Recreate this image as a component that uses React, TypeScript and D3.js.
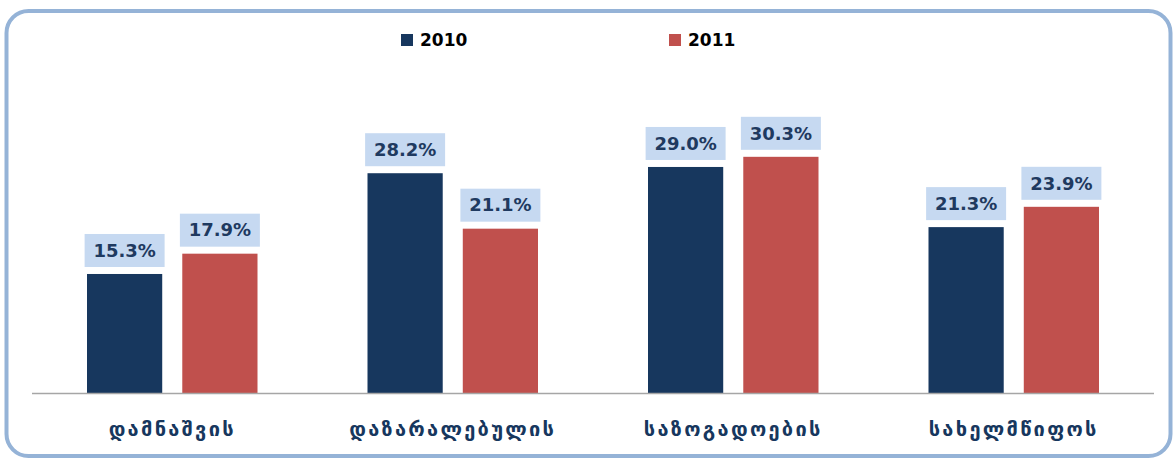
import React from "react";
import * as d3 from "d3";

const categories = ["დამნაშვის", "დაზარალებულის", "საზოგადოების", "სახელმწიფოს"];
const series = ["2010", "2011"];
const values2010 = [15.3, 28.2, 29.0, 21.3];
const values2011 = [17.9, 21.1, 30.3, 23.9];
const colors = ["#17375e", "#c0504d"];

const W = 1173;
const H = 458;

export default function App() {
  const x0 = d3.scaleBand<string>().domain(categories).range([32, 1154]).paddingInner(0).paddingOuter(0);
  const x1 = d3.scaleBand<string>().domain(series).range([55, x0.bandwidth() - 55]).paddingInner(20 / 95).paddingOuter(0);
  const y = d3.scaleLinear().domain([0, 35]).range([393.5, 393.5 - 273.4]);
  const data = [values2010, values2011];

  return (
    <svg width={W} height={H} style={{ position: "absolute", left: 0, top: 0 }}>
      <rect x={0} y={0} width={W} height={H} fill="#ffffff" />
      <rect x={6.5} y={11} width={1164} height={445} rx={22} ry={22} fill="none" stroke="#95b3d7" strokeWidth={4} />
      {series.map((s, i) => (
        <g key={s} transform={`translate(${i === 0 ? 401 : 669},34)`}>
          <rect x={0} y={0} width={12} height={12} fill={colors[i]} />
          <text x={19} y={12} fontFamily="DejaVu Sans" fontWeight="bold" fontSize={17} fill="#000">{s}</text>
        </g>
      ))}
      {categories.map((c, ci) => (
        <g key={c} transform={`translate(${x0(c)},0)`}>
          {series.map((s, si) => {
            const v = data[si][ci];
            const bx = x1(s)!;
            const bw = x1.bandwidth();
            const top = y(v);
            return (
              <g key={s}>
                <rect x={bx} y={top} width={bw} height={y(0) - top} fill={colors[si]} />
                <rect x={bx + bw / 2 - 40} y={top - 40} width={80} height={33} fill="#c6d9f1" />
                <text x={bx + bw / 2} y={top - 23.5} dy="0.35em" textAnchor="middle" fontFamily="DejaVu Sans" fontWeight="bold" fontSize={18} fill="#1f3a60">
                  {v.toFixed(1)}%
                </text>
              </g>
            );
          })}
          <text x={x0.bandwidth() / 2} y={429} dy="0.35em" textAnchor="middle" fontFamily="DejaVu Sans" fontWeight="bold" fontSize={20} letterSpacing={2.3} fill="#17375e">
            {c}
          </text>
        </g>
      ))}
      <line x1={32} x2={1154} y1={393.5} y2={393.5} stroke="#a6a6a6" strokeWidth={1.5} />
    </svg>
  );
}
